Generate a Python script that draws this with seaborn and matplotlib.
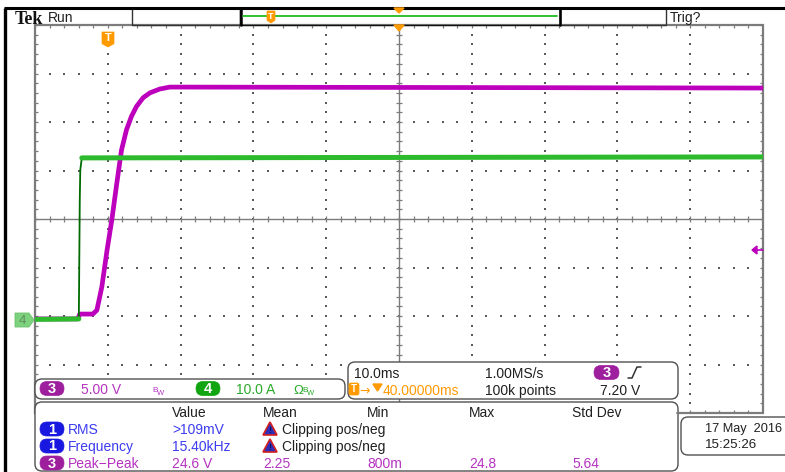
import numpy as np
import pandas as pd
import matplotlib
matplotlib.use("Agg")
import matplotlib.pyplot as plt
import seaborn as sns
from matplotlib.patches import FancyBboxPatch, Polygon, Rectangle

# ---------------- data ----------------
ch3_time_ms = [-10.0, -4.12, -3.85, -2.06, -1.5, -0.82, -0.1, 0.55, 1.24, 1.88, 2.57,
               3.26, 3.94, 4.85, 5.77, 7.14, 8.52, 10.3, 90.0]
ch3_volts = [0.1, 0.1, 0.6, 0.6, 1.0, 3.4, 7.2, 10.3, 14.1, 17.5, 19.6,
             21.0, 22.0, 22.9, 23.4, 23.8, 24.0, 24.0, 23.9]
ch4_time_ms = [-10.0, -3.98, -3.85, -3.78, -3.57, 90.0]
ch4_amps = [0.1, 0.2, 24.8, 30.9, 33.4, 33.6]

ch3_scale = "5.00 V"
ch4_scale = "10.0 A"
timebase = "10.0ms"
sample_rate = "1.00MS/s"
record_len = "100k points"
trig_level = "7.20 V"
h_delay = "40.00000ms"
meas_headers = ["Value", "Mean", "Min", "Max", "Std Dev"]
meas_rows = [
    ("1", "RMS", [">109mV", "Clipping pos/neg"]),
    ("1", "Frequency", ["15.40kHz", "Clipping pos/neg"]),
    ("3", "Peak\u2212Peak", ["24.6 V", "2.25", "800m", "24.8", "5.64"]),
]
date_lines = ["17 May  2016", "15:25:26"]

# scope settings (axis ranges)
t_per_div = 10.0
t_left = -10.0
v_per_div3 = 5.0
a_per_div4 = 10.0
gnd_div = -2.08  # ground position in divisions from centre

# ---------------- style ----------------
sns.set_theme(style="white")
plt.rcParams['font.family'] = ['Liberation Sans', 'DejaVu Sans']

MAG = '#BC00BC'
MAG_TXT = '#B533C0'
PUR = '#9E1F9E'
GRN = '#2DBA2D'
GRN_DK = '#006A00'
GRN_TXT = '#2AAA2A'
BLUE = '#1818E0'
BLUE_TXT = '#3C3CF0'
ORG = '#FF9A00'
GRAT = '#7C7C7C'
TXT = '#202020'

W, H = 785, 472
fig = plt.figure(figsize=(W / 100, H / 100), dpi=100)
fig.patch.set_facecolor('white')

gx0, gx1, gy0, gy1 = 35, 763, 25, 413
rect = [gx0 / W, 1 - gy1 / H, (gx1 - gx0) / W, (gy1 - gy0) / H]

# ---------------- graticule (division units) ----------------
g = fig.add_axes(rect, zorder=0)
g.set_xlim(-5, 5)
g.set_ylim(-4, 4)
g.axis('off')
minor_x = np.round(np.arange(-5, 5.001, 0.2), 3)
minor_y = np.round(np.arange(-4, 4.001, 0.2), 3)
dx, dy = [], []
for xv in range(-4, 5):
    if xv == 0:
        continue
    dx += [xv] * len(minor_y)
    dy += list(minor_y)
for yv in range(-3, 4):
    if yv == 0:
        continue
    dx += list(minor_x)
    dy += [yv] * len(minor_x)
g.scatter(dx, dy, s=1.5, marker='s', color='#5a5a5a', linewidths=0)
g.axhline(0, color=GRAT, lw=1.0)
g.axvline(0, color=GRAT, lw=1.0)
tx, ty = 3.2 / 72.8, 3.2 / 48.5
g.vlines(minor_x, -ty, ty, color=GRAT, lw=0.9)
g.hlines(minor_y, -tx, tx, color=GRAT, lw=0.9)
g.vlines(minor_x, 4 - ty, 4, color=GRAT, lw=0.9)
g.vlines(minor_x, -4, -4 + ty, color=GRAT, lw=0.9)
g.hlines(minor_y, -5, -5 + tx, color=GRAT, lw=0.9)
g.hlines(minor_y, 5 - tx, 5, color=GRAT, lw=0.9)
g.add_patch(Rectangle((-5, -4), 10, 8, fill=False, ec=GRAT, lw=1.6, clip_on=False))

xlim = (t_left, t_left + 10 * t_per_div)
# ---------------- channel 3 (volts) ----------------
a3 = fig.add_axes(rect, zorder=1)
a3.patch.set_alpha(0)
sns.lineplot(x=ch3_time_ms, y=ch3_volts, ax=a3, color=MAG, lw=3.4,
             estimator=None, sort=False)
a3.set_xlim(*xlim)
a3.set_ylim((-4 - gnd_div) * v_per_div3, (4 - gnd_div) * v_per_div3)
a3.axis('off')

# ---------------- channel 4 (amps) ----------------
a4 = fig.add_axes(rect, zorder=2)
a4.patch.set_alpha(0)
sns.lineplot(x=ch4_time_ms, y=ch4_amps, ax=a4, color=GRN_DK, lw=1.3,
             estimator=None, sort=False)
sns.lineplot(x=ch4_time_ms[:2], y=ch4_amps[:2], ax=a4, color=GRN, lw=3.6,
             estimator=None, sort=False)
sns.lineplot(x=ch4_time_ms[-2:], y=ch4_amps[-2:], ax=a4, color=GRN, lw=3.6,
             estimator=None, sort=False)
a4.set_xlim(*xlim)
a4.set_ylim((-4 - gnd_div) * a_per_div4, (4 - gnd_div) * a_per_div4)
a4.axis('off')

# ---------------- overlay in pixel units ----------------
p = fig.add_axes([0, 0, 1, 1], zorder=5)
p.set_xlim(0, W)
p.set_ylim(H, 0)
p.axis('off')
p.patch.set_alpha(0)

FS = 10


def rbox(x0, y0, x1, y1, r=7, fc='white', ec='#505050', lw=1.0, z=1):
    p.add_patch(FancyBboxPatch((x0, y0), x1 - x0, y1 - y0,
                               boxstyle=f"round,pad=0,rounding_size={r}",
                               fc=fc, ec=ec, lw=lw, zorder=z, clip_on=False))


def pill(x0, yc, label, color, w=24, h=14):
    rbox(x0, yc - h / 2, x0 + w, yc + h / 2, r=h / 2, fc=color, ec=color, lw=0.5, z=3)
    p.text(x0 + w / 2, yc + 0.5, label, color='white', fontsize=10.5, fontweight='bold',
           ha='center', va='center', zorder=4)


def txt(x, yb, s, color=TXT, fs=FS, **kw):
    p.text(x, yb, s, color=color, fontsize=fs, ha=kw.pop('ha', 'left'),
           va=kw.pop('va', 'baseline'), zorder=kw.pop('zorder', 4), **kw)


def bw(x, yb, color):
    txt(x, yb - 2, "B", color=color, fs=6)
    txt(x + 4.5, yb + 1, "W", color=color, fs=5.5)


# outer frame
p.plot([5, 5], [8, H], color='black', lw=2.4, solid_capstyle='butt')
p.plot([4, W], [8, 8], color='black', lw=2.2, solid_capstyle='butt')

# top bar
txt(15, 23.5, "Tek", color='#111111', fs=13, fontweight='bold', family='Liberation Serif')
txt(48, 22, "Run", fs=FS)
p.add_patch(Rectangle((132, 8), 108, 17, fill=False, ec='#333333', lw=1.0))
p.add_patch(Rectangle((240, 8), 320, 17, fill=False, ec='#111111', lw=1.0))
p.plot([240.5, 240.5], [8, 25], color='black', lw=1.8)
p.plot([559.5, 559.5], [8, 25], color='black', lw=1.8)
p.add_patch(Rectangle((560, 8), 106, 17, fill=False, ec='#333333', lw=1.0))
p.plot([243, 557], [16, 16], color='#22BB22', lw=1.3)
txt(670, 22, "Trig?", fs=FS)


def tmark(xc, y0, w, h, fs):
    p.add_patch(Polygon([[xc - w / 2, y0], [xc + w / 2, y0], [xc + w / 2, y0 + h * 0.78],
                         [xc, y0 + h], [xc - w / 2, y0 + h * 0.78]],
                        closed=True, fc=ORG, ec=ORG, lw=0.5, zorder=3))
    p.text(xc, y0 + h * 0.42, "T", color='white', fontsize=fs, fontweight='bold',
           ha='center', va='center', zorder=4)


tmark(271, 11, 8, 12, 6.5)
tmark(108, 32, 12, 15, 8)
p.add_patch(Polygon([[394, 8], [404, 8], [399, 13]], closed=True, fc=ORG, ec=ORG, zorder=3))
p.add_patch(Polygon([[394, 25], [404, 25], [399, 31]], closed=True, fc=ORG, ec=ORG, zorder=3))

# channel-4 ground marker
p.add_patch(Polygon([[15, 313], [29, 313], [34, 320], [29, 327], [15, 327]], closed=True,
                    fc='#7DD27D', ec='#6CC06C', lw=0.6, zorder=3))
p.text(22, 320.5, "4", color='#5E8F5E', fontsize=9.5, ha='center', va='center', zorder=4)
# trigger level marker (right)
p.add_patch(Polygon([[752, 250], [757, 246], [757, 254]], closed=True, fc=MAG, ec=MAG, zorder=3))
p.plot([756, 763], [250, 250], color=MAG, lw=1.2)

# scale box
rbox(35, 379, 345, 399, r=7)
pill(40, 388.5, "3", PUR)
txt(81, 394, ch3_scale, color=MAG_TXT)
bw(152, 394, MAG_TXT)
pill(196, 388.5, "4", '#12A512')
txt(236, 394, ch4_scale, color=GRN_TXT)
txt(293, 394, "\u03a9", color=GRN_TXT, fs=9.5)
bw(302, 394, GRN_TXT)

# timebase box
rbox(348, 362, 678, 399, r=7)
txt(354, 378, timebase)
txt(485, 378, sample_rate)
pill(594, 372.5, "3", PUR, w=25)
p.plot([628, 632, 637, 641], [378, 378, 367, 367], color='#333333', lw=1.1, zorder=4)
rbox(349, 383, 359, 395, r=2, fc=ORG, ec=ORG, lw=0.5, z=3)
p.text(354, 389.5, "T", color='white', fontsize=7, fontweight='bold', ha='center',
       va='center', zorder=4)
txt(359, 395, "\u2192", color=ORG, fs=9, family='DejaVu Sans')
p.add_patch(Polygon([[373, 384], [382, 384], [377.5, 391]], closed=True, fc=ORG, ec=ORG, zorder=3))
txt(383, 395, h_delay, color=ORG)
txt(485, 395, record_len)
txt(600, 395, trig_level)

# measurement box
rbox(35, 402, 678, 471, r=7)
hx = [172, 263, 367, 469, 572]
for x, h in zip(hx, meas_headers):
    txt(x, 417, h)
row_y = [434, 451, 468]
for (ch, name, vals), yb in zip(meas_rows, row_y):
    col = BLUE if ch == "1" else PUR
    tcol = BLUE_TXT if ch == "1" else MAG_TXT
    pill(40, yb - 5, ch, col)
    txt(68, yb, name, color=tcol)
    if len(vals) == 2:
        txt(172, yb, vals[0], color=tcol)
        p.add_patch(Polygon([[263, yb + 1], [277, yb + 1], [270, yb - 12]], closed=True,
                            fc='#2E2EB8', ec='#D42020', lw=1.2, zorder=3))
        p.text(270, yb - 3.5, "!", color='#101060', fontsize=6.5, fontweight='bold',
               ha='center', va='center', zorder=4)
        txt(282, yb, vals[1], color=TXT)
    else:
        for x, v in zip(hx, vals):
            txt(x, yb, v, color=tcol)

# date box and graticule bottom segment
p.plot([677, 763], [413, 413], color=GRAT, lw=1.4)
rbox(681, 417, 800, 455, r=7)
txt(705, 432, date_lines[0], fs=9.2)
txt(705, 448, date_lines[1], fs=9.6)

fig.savefig("out.png", dpi=100, facecolor='white')
